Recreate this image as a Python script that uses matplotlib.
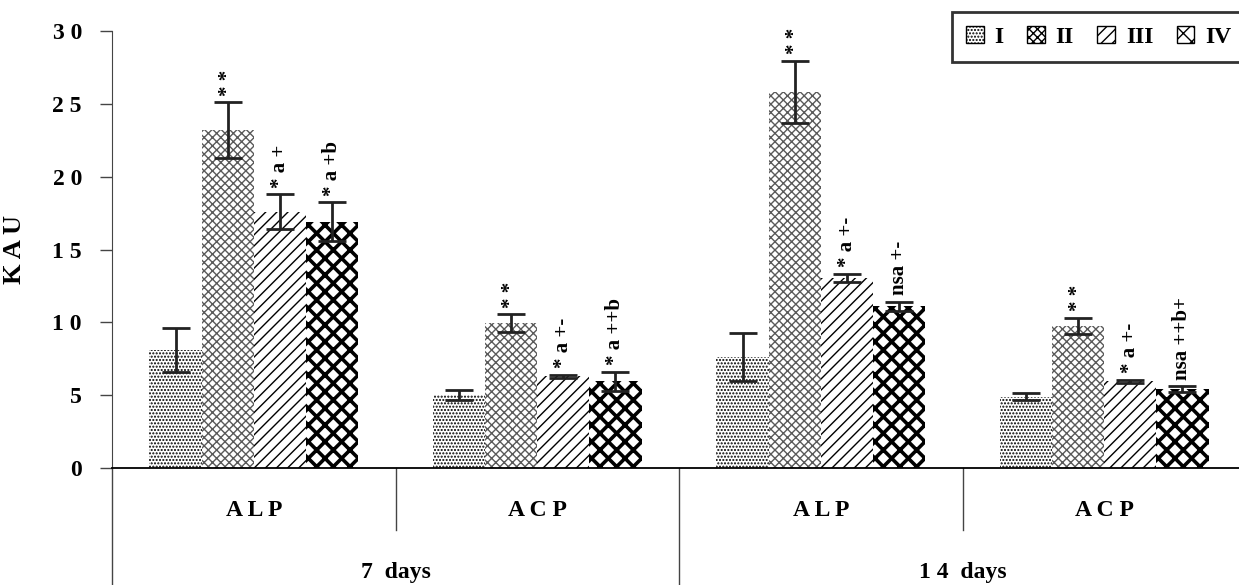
import numpy as np
import matplotlib.pyplot as plt
import matplotlib as mpl

mpl.rcParams['font.family'] = ['Liberation Serif', 'DejaVu Serif']
mpl.rcParams['font.weight'] = 'bold'
mpl.rcParams['hatch.linewidth'] = 1.0

# data
enzymes = ['A L P', 'A C P', 'A L P', 'A C P']
periods = ['7  days', '1 4  days']
groups = ['I', 'II', 'III', 'IV']

means = {
    'I':   [8.1, 5.0, 7.6, 4.9],
    'II':  [23.2, 9.95, 25.8, 9.75],
    'III': [17.6, 6.3, 13.05, 5.95],
    'IV':  [16.9, 5.95, 11.1, 5.4],
}
errors = {
    'I':   [1.5, 0.35, 1.65, 0.25],
    'II':  [1.9, 0.6, 2.15, 0.55],
    'III': [1.2, 0.1, 0.3, 0.12],
    'IV':  [1.35, 0.65, 0.3, 0.2],
}
marks = {
    'I':   ['', '', '', ''],
    'II':  ['* *', '* *', '* *', '* *'],
    'III': ['* a +', '* a +-', '* a +-', '* a +-'],
    'IV':  ['* a +b', '* a ++b', 'nsa +-', 'nsa ++b+'],
}

hatches = {'I': '.....', 'II': 'xxxx', 'III': '///', 'IV': 'xx'}
hatch_colors = {'I': 'black', 'II': '#5a5a5a', 'III': 'black', 'IV': 'black'}
hatch_widths = {'I': 1.0, 'II': 1.0, 'III': 1.0, 'IV': 2.6}

fig = plt.figure(figsize=(12.39, 5.85), dpi=100)
ax = fig.add_axes([112 / 1239, 117 / 585, 1134 / 1239, 437 / 585])

x = np.arange(len(enzymes))
width = 0.184
for i, g in enumerate(groups):
    pos = x + (i - 1.5) * width
    bars = ax.bar(pos, means[g], width, color='white', edgecolor=hatch_colors[g],
                  hatch=hatches[g], linewidth=0, label=g, zorder=2)
    for b in bars:
        b.set_hatch_linewidth(hatch_widths[g])
    ax.errorbar(pos, means[g], yerr=errors[g], fmt='none', ecolor='#222222',
                elinewidth=2, capsize=10, capthick=2, zorder=3)
    for p, m, e, t in zip(pos, means[g], errors[g], marks[g]):
        if t:
            ax.text(p, m + e + 0.45, t, rotation=90, ha='center', va='bottom',
                    fontsize=15, fontweight='bold')

ax.set_xlim(-0.5, len(enzymes) - 0.5)
ax.set_ylim(0, 30)
ax.set_yticks(np.arange(0, 31, 5))
ax.set_yticklabels([' '.join(str(v)) for v in range(0, 31, 5)], fontsize=17)
ax.tick_params(axis='y', direction='out', length=8.6, width=1, pad=13, color='#444444')
ax.set_xticks([])
ax.set_ylabel('K A U', fontsize=19, fontweight='bold')
ax.yaxis.set_label_coords(-0.076, 0.5)

for s in ['top', 'right']:
    ax.spines[s].set_visible(False)
ax.spines['left'].set_color('#444444')
ax.spines['bottom'].set_linewidth(1.3)

# two level category axis
trans = ax.get_xaxis_transform()
for k in range(len(enzymes)):
    ax.text(k, -0.098, enzymes[k], transform=trans, ha='center', va='center', fontsize=17)
for k in range(1, len(enzymes), 2):
    ax.plot([k - 0.5, k - 0.5], [0, -0.142], transform=trans, color='#444444',
            lw=1, clip_on=False)
for k in range(len(periods)):
    ax.text(2 * k + 0.5, -0.238, periods[k], transform=trans, ha='center', va='center', fontsize=17)
for k in range(0, len(enzymes), 2):
    ax.plot([k - 0.5, k - 0.5], [0, -0.3], transform=trans, color='#444444',
            lw=1, clip_on=False)

leg = fig.legend(loc='upper left', bbox_to_anchor=(952 / 1239, 1 - 12 / 585), ncol=4,
                 fontsize=17, frameon=True, fancybox=False, handlelength=0.75,
                 handleheight=0.75, handletextpad=0.45, columnspacing=1.0,
                 borderpad=0.6, borderaxespad=0)
leg.get_frame().set_edgecolor('black')
leg.get_frame().set_linewidth(2)
for h in leg.legend_handles:
    h.set_linewidth(1)
    h.set_edgecolor('black')

fig.savefig('out.png', dpi=100)
